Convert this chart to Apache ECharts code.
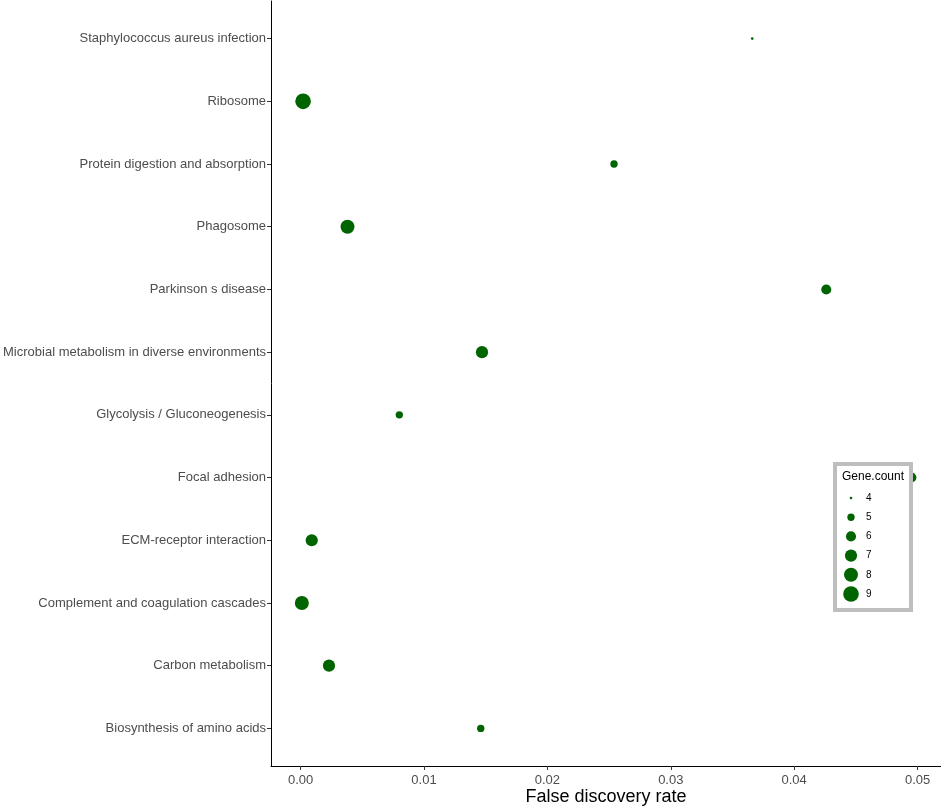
<!DOCTYPE html>
<html>
<head>
<meta charset="utf-8">
<script src="https://cdn.jsdelivr.net/npm/echarts@6/dist/echarts.min.js"></script>
<style>
html,body{margin:0;padding:0;background:#fff;overflow:hidden;}
#chart{width:941px;height:806px;}
</style>
</head>
<body>
<div id="chart"></div>
<script>
// Categories bottom -> top
const pathways = [
  "Biosynthesis of amino acids",
  "Carbon metabolism",
  "Complement and coagulation cascades",
  "ECM-receptor interaction",
  "Focal adhesion",
  "Glycolysis / Gluconeogenesis",
  "Microbial metabolism in diverse environments",
  "Parkinson s disease",
  "Phagosome",
  "Protein digestion and absorption",
  "Ribosome",
  "Staphylococcus aureus infection"
];
const fdrValues = [0.0146, 0.0023, 0.0001, 0.0009, 0.0495, 0.0080, 0.0147, 0.0426, 0.0038, 0.0254, 0.0002, 0.0366];
const geneCounts = [5, 7, 8, 7, 6, 5, 7, 6, 8, 5, 9, 4];
const xTicks = [0, 0.01, 0.02, 0.03, 0.04, 0.05];
const legendCounts = [4, 5, 6, 7, 8, 9];

function sizeOf(c) { return 2.6 * Math.sqrt(1 + 7 * (c - 4)); }

const data = pathways.map((p, i) => [fdrValues[i], i, geneCounts[i]]);
const FONT = "Liberation Sans, Arial, sans-serif";
const GREEN = "#006400";

const legendGraphics = [];
legendGraphics.push({
  type: 'rect', shape: {x: 835, y: 464, width: 76, height: 146},
  style: {fill: '#fff', stroke: '#bebebe', lineWidth: 4}, z: 100
});
legendGraphics.push({
  type: 'text', x: 842, y: 477,
  style: {text: 'Gene.count', fill: '#000', font: '12px ' + FONT, textVerticalAlign: 'middle'}, z: 101
});
legendCounts.forEach((c, k) => {
  const cy = 498 + k * 19.2;
  legendGraphics.push({
    type: 'circle', shape: {cx: 851, cy: cy, r: sizeOf(c) / 2},
    style: {fill: GREEN}, z: 101
  });
  legendGraphics.push({
    type: 'text', x: 866, y: cy,
    style: {text: String(c), fill: '#000', font: '10px ' + FONT, textVerticalAlign: 'middle'}, z: 101
  });
});

const chart = echarts.init(document.getElementById('chart'), null, {renderer: 'canvas'});
chart.setOption({
  animation: false,
  backgroundColor: '#fff',
  textStyle: {fontFamily: FONT},
  grid: {left: 271, right: 0, top: 1, bottom: 40, containLabel: false, outerBoundsMode: 'none'},
  xAxis: {
    type: 'value', min: -0.0024, max: 0.0519,
    splitLine: {show: false},
    axisLine: {show: true, onZero: false, lineStyle: {color: '#000', width: 1}},
    axisTick: {show: true, length: 4, customValues: xTicks, lineStyle: {color: '#333'}},
    axisLabel: {
      customValues: xTicks, color: '#4d4d4d', fontSize: 13, margin: 8,
      formatter: v => v.toFixed(2)
    },
    name: 'False discovery rate', nameLocation: 'middle', nameGap: 22, nameMoveOverlap: false,
    nameTextStyle: {color: '#000', fontSize: 18, fontFamily: FONT}
  },
  yAxis: {
    type: 'value', min: -0.6, max: 11.6,
    splitLine: {show: false},
    axisLine: {show: true, onZero: false, lineStyle: {color: '#000', width: 1}},
    axisTick: {show: true, length: 4, customValues: pathways.map((p, i) => i), lineStyle: {color: '#333'}},
    axisLabel: {
      customValues: pathways.map((p, i) => i), color: '#4d4d4d', fontSize: 13, margin: 5,
      formatter: v => pathways[Math.round(v)]
    }
  },
  series: [{
    type: 'scatter',
    data: data,
    symbol: 'circle',
    symbolSize: d => sizeOf(d[2]),
    itemStyle: {color: GREEN, opacity: 1},
    z: 2
  }],
  graphic: legendGraphics
});
</script>
</body>
</html>
